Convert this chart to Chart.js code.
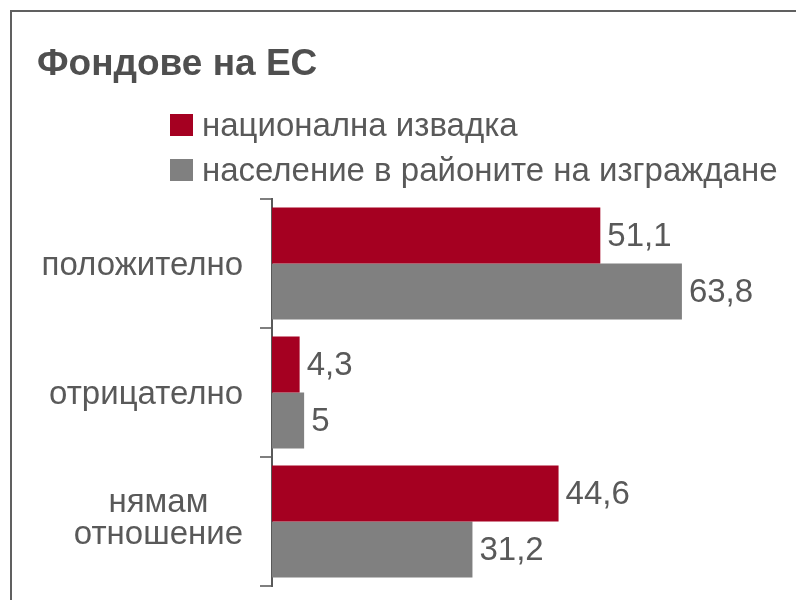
<!DOCTYPE html>
<html>
<head>
<meta charset="utf-8">
<script src="https://cdn.jsdelivr.net/npm/chart.js@4/dist/chart.umd.min.js"></script>
<style>
html,body{margin:0;padding:0;background:#fff;}
#wrap{width:796px;height:600px;position:relative;}
</style>
</head>
<body>
<div id="wrap"><canvas id="c" width="796" height="600"></canvas></div>
<script>
const titleText = 'Фондове на ЕС';
const categories = [['положително'], ['отрицателно'], ['нямам', 'отношение']];
const seriesNames = ['национална извадка', 'население в районите на изграждане'];
const nationalSample = [51.1, 4.3, 44.6];
const constructionAreas = [63.8, 5, 31.2];
const valueLabels = [['51,1', '4,3', '44,6'], ['63,8', '5', '31,2']];
const colors = ['#a50021', '#808080'];
const textColor = '#595959';
const FONT = '"Liberation Sans", Arial, sans-serif';

const decorPlugin = {
  id: 'decor',
  beforeDraw(chart) {
    const ctx = chart.ctx;
    ctx.save();
    ctx.fillStyle = '#fff';
    ctx.fillRect(0, 0, chart.width, chart.height);
    // frame
    ctx.strokeStyle = '#606060';
    ctx.lineWidth = 2;
    ctx.beginPath();
    ctx.moveTo(11, chart.height);
    ctx.lineTo(11, 11);
    ctx.lineTo(chart.width, 11);
    ctx.stroke();
    // title
    ctx.fillStyle = '#4f4f4f';
    ctx.font = 'bold 37px ' + FONT;
    ctx.textBaseline = 'alphabetic';
    ctx.textAlign = 'left';
    ctx.fillText(titleText, 37, 75);
    // legend
    ctx.font = '33px ' + FONT;
    ctx.textBaseline = 'middle';
    const rows = [125, 170];
    chart.data.datasets.forEach((ds, i) => {
      ctx.fillStyle = ds.backgroundColor;
      ctx.fillRect(170, rows[i] - 11, 23, 22);
      ctx.fillStyle = textColor;
      ctx.fillText(ds.label, 202, rows[i] + 2);
    });
    ctx.restore();
  },
  afterDatasetsDraw(chart) {
    const ctx = chart.ctx;
    ctx.save();
    // value labels
    ctx.font = '33px ' + FONT;
    ctx.fillStyle = textColor;
    ctx.textBaseline = 'middle';
    ctx.textAlign = 'left';
    chart.data.datasets.forEach((ds, i) => {
      chart.getDatasetMeta(i).data.forEach((bar, j) => {
        ctx.fillText(valueLabels[i][j], bar.x + 7, bar.y + 1);
      });
    });
    // category labels
    const ys = chart.scales.y;
    ctx.font = '33px ' + FONT;
    ctx.textAlign = 'center';
    const rightEdge = 243;
    const lh = 32;
    chart.data.labels.forEach((lines, j) => {
      const yc = ys.getPixelForValue(j) + 2 - (lines.length > 1 ? 5 : 0);
      const w = Math.max(...lines.map(l => ctx.measureText(l).width));
      const cx = rightEdge - w / 2;
      lines.forEach((l, k) => {
        ctx.fillText(l, cx, yc + (k - (lines.length - 1) / 2) * lh);
      });
    });
    ctx.restore();
  }
};

new Chart(document.getElementById('c'), {
  type: 'bar',
  data: {
    labels: categories,
    datasets: [
      { label: seriesNames[0], data: nationalSample, backgroundColor: colors[0] },
      { label: seriesNames[1], data: constructionAreas, backgroundColor: colors[1] }
    ]
  },
  options: {
    indexAxis: 'y',
    responsive: false,
    animation: false,
    devicePixelRatio: 1,
    layout: { padding: { top: 199, bottom: 14, left: 0, right: 10 } },
    datasets: { bar: { barPercentage: 1, categoryPercentage: 0.868 } },
    plugins: { legend: { display: false }, title: { display: false }, tooltip: { enabled: false } },
    scales: {
      x: { display: false, min: 0, max: 80 },
      y: {
        afterFit(scale) { scale.width = 272; },
        ticks: { display: false },
        grid: { display: true, drawOnChartArea: false, drawTicks: true, tickLength: 12, offset: true, color: '#7f7f7f', lineWidth: 2 },
        border: { display: true, color: '#595959', width: 2 }
      }
    }
  },
  plugins: [decorPlugin]
});
</script>
</body>
</html>
